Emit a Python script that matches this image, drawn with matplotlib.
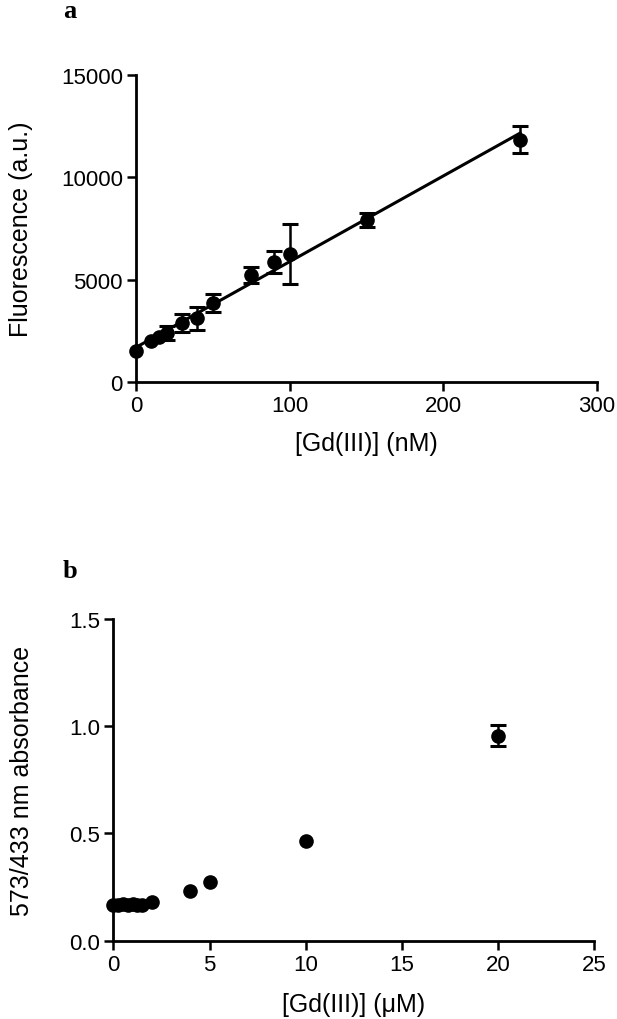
import numpy as np
import matplotlib
matplotlib.use("Agg")
import matplotlib.pyplot as plt

# Panel a data
a_conc = [0, 10, 15, 20, 30, 40, 50, 75, 90, 100, 150, 250]
a_fluor = [1540, 2030, 2220, 2400, 2880, 3120, 3850, 5230, 5850, 6260, 7920, 11840]
a_err = [0, 0, 0, 340, 440, 570, 440, 370, 540, 1480, 340, 675]
a_xticks = [0, 100, 200, 300]
a_yticks = [0, 5000, 10000, 15000]

# Panel b data
b_conc = [0, 0.25, 0.5, 0.75, 1.0, 1.25, 1.5, 2.0, 4, 5, 10, 20]
b_abs = [0.165, 0.168, 0.170, 0.168, 0.170, 0.166, 0.167, 0.182, 0.234, 0.276, 0.467, 0.955]
b_err = [0, 0, 0, 0, 0, 0, 0, 0, 0, 0, 0, 0.049]
b_xticks = [0, 5, 10, 15, 20, 25]
b_yticks = [0.0, 0.5, 1.0, 1.5]

plt.rcParams['font.family'] = ['Liberation Sans', 'DejaVu Sans']

fig = plt.figure(figsize=(6.17, 10.20), dpi=100)
W, H = 617, 1020

def style(ax):
    for s in ['top', 'right']:
        ax.spines[s].set_visible(False)
    for s in ['left', 'bottom']:
        ax.spines[s].set_linewidth(2.0)
    ax.tick_params(direction='out', length=6.5, width=1.8, labelsize=16, pad=3, color='black')

def points(ax, x, y, e):
    x = np.asarray(x, float); y = np.asarray(y, float); e = np.asarray(e, float)
    m = e > 0
    ax.errorbar(x[m], y[m], yerr=e[m], fmt='none', ecolor='black',
                elinewidth=1.8, capsize=5.5, capthick=2.2, clip_on=False)
    ax.plot(x, y, 'o', color='black', ms=9.5, clip_on=False, zorder=3)

# Panel a
axa = fig.add_axes([136 / W, 1 - 383.3 / H, (597 - 136) / W, (383.3 - 75.7) / H])
style(axa)
coef = np.polyfit(a_conc, a_fluor, 1)
xf = np.array([min(a_conc), max(a_conc)])
axa.plot(xf, np.polyval(coef, xf), color='black', lw=2.2, clip_on=False)
points(axa, a_conc, a_fluor, a_err)
axa.set_xlim(0, 300)
axa.set_ylim(0, 15000)
axa.set_xticks(a_xticks)
axa.set_yticks(a_yticks)
axa.set_xlabel('[Gd(III)] (nM)', fontsize=18)
axa.set_ylabel('Fluorescence (a.u.)', fontsize=18)
axa.xaxis.set_label_coords(0.5, -0.158)
axa.yaxis.set_label_coords(-0.223, 0.5)

# Panel b
axb = fig.add_axes([113.3 / W, 1 - 941.7 / H, (594.3 - 113.3) / W, (941.7 - 620) / H])
style(axb)
points(axb, b_conc, b_abs, b_err)
axb.set_xlim(0, 25)
axb.set_ylim(0, 1.5)
axb.set_xticks(b_xticks)
axb.set_yticks(b_yticks)
axb.set_yticklabels(['0.0', '0.5', '1.0', '1.5'])
axb.set_xlabel('[Gd(III)] (μM)', fontsize=18)
axb.set_ylabel('573/433 nm absorbance', fontsize=18)
axb.xaxis.set_label_coords(0.5, -0.159)
axb.yaxis.set_label_coords(-0.165, 0.5)

# Panel letters
fig.text(70 / W, 1 - 12 / H, 'a', fontsize=19, fontweight='bold',
         family='Liberation Serif', ha='center', va='center')
fig.text(70 / W, 1 - 572 / H, 'b', fontsize=19, fontweight='bold',
         family='Liberation Serif', ha='center', va='center')

fig.savefig('out.png', dpi=100)
